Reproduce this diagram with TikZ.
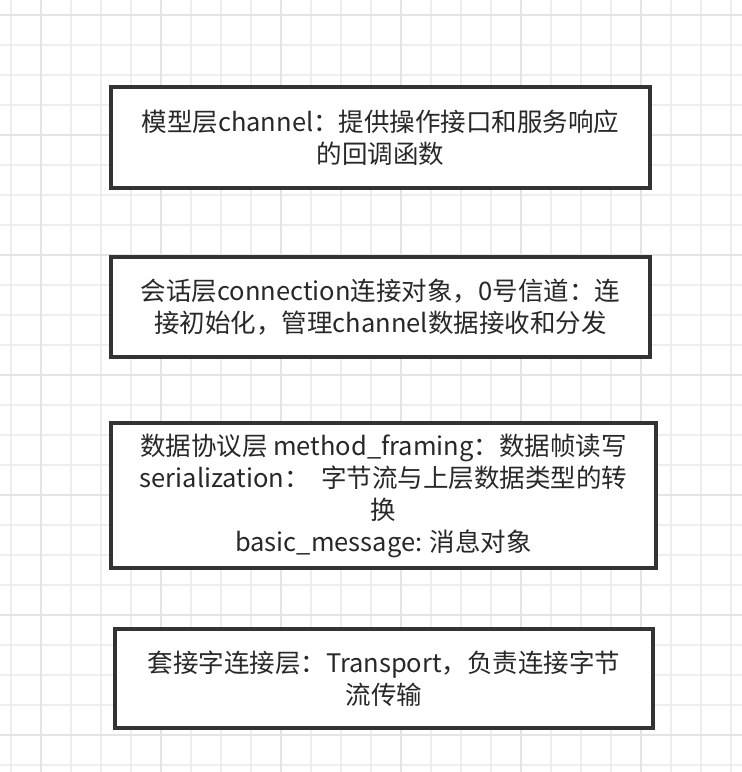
\documentclass[tikz,border=0pt]{standalone}
\usepackage{fontspec}
\setmainfont{Noto Sans CJK SC}
\definecolor{gridminor}{RGB}{238,238,238}
\definecolor{gridmajor}{RGB}{228,228,228}
\definecolor{boxline}{RGB}{51,51,51}
\definecolor{txt}{RGB}{40,40,40}
\begin{document}
\begin{tikzpicture}[x=1pt,y=-1pt,
  layerbox/.style={draw=boxline, line width=3.5pt, fill=white, rectangle, inner sep=0pt,
    align=center, text=txt, font=\fontsize{25.5}{32}\selectfont}]
\useasboundingbox (0,0) rectangle (742,772);
\fill[white] (0,0) rectangle (742,772);
% grid
\foreach \x in {11,41,...,741} \draw[gridminor, line width=1.5pt] (\x,0) -- (\x,772);
\foreach \y in {15,45,...,771} \draw[gridminor, line width=1.5pt] (0,\y) -- (742,\y);
\foreach \x in {41,161,...,741} \draw[gridmajor, line width=2pt] (\x,0) -- (\x,772);
\foreach \y in {15,135,...,771} \draw[gridmajor, line width=2pt] (0,\y) -- (742,\y);
% boxes
\node[layerbox, minimum width=539pt, minimum height=101pt] (b1) at (380.5,137.5)
  {模型层channel：提供操作接口和服务响应\\的回调函数};
\node[layerbox, minimum width=539pt, minimum height=100pt] (b2) at (380.5,307)
  {会话层connection连接对象，0号信道：连\\接初始化，管理channel数据接收和分发};
\node[layerbox, minimum width=545pt, minimum height=145pt] (b3) at (383.5,495.5)
  {数据协议层 method\_framing：数据帧读写\\serialization：\ \ 字节流与上层数据类型的转\\换\\basic\_message: 消息对象};
\node[layerbox, minimum width=538pt, minimum height=99pt] (b4) at (384,678.5)
  {套接字连接层：Transport，负责连接字节\\流传输};
\end{tikzpicture}
\end{document}
